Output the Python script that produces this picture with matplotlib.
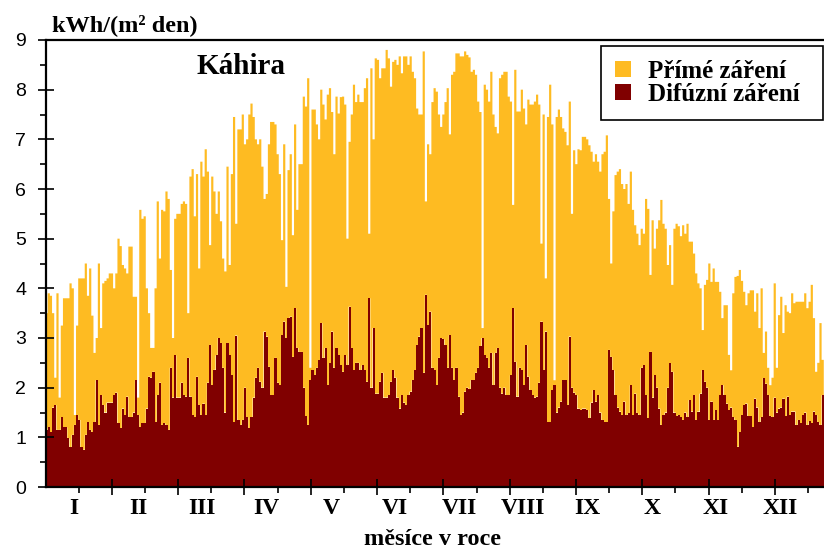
import numpy as np
import matplotlib.pyplot as plt
from matplotlib.patches import Patch

# Daily global radiation (top of the bar) and its diffuse part, kWh/(m2 day)
total_jan = [3.5, 3.9, 3.85, 3.5, 2.2, 3.9, 1.8, 3.25, 3.8, 3.8, 3.8, 4.1, 4.0, 1.45, 3.25, 4.2,
             4.2, 4.2, 4.5, 3.85, 4.4, 3.45, 2.7, 3.0, 4.5, 3.2, 4.1, 4.15, 4.2, 4.3, 4.3]
total_feb = [4.0, 4.3, 5.0, 4.85, 4.47, 4.4, 4.3, 4.84, 4.84, 3.83, 3.83, 1.8, 5.58, 5.4, 5.45,
             4.0, 3.5, 2.8, 2.8, 4.0, 5.75, 4.6, 5.58, 5.55, 5.95, 5.8, 4.37, 3.0]
total_mar = [5.4, 5.5, 5.5, 5.7, 5.75, 5.7, 3.5, 6.25, 6.4, 5.45, 6.3, 4.4, 6.55, 6.25, 6.8, 6.35,
             4.87, 6.25, 5.95, 5.5, 5.95, 5.35, 4.6, 4.34, 6.45, 4.47, 6.3, 7.45, 5.3, 7.2, 7.2]
total_apr = [7.5, 6.9, 7.0, 7.5, 7.72, 7.45, 7.0, 6.9, 7.0, 6.45, 5.8, 5.9, 6.9, 7.35, 7.35,
             7.3, 6.7, 6.3, 4.97, 6.9, 4.03, 6.38, 6.7, 5.07, 7.3, 5.58, 6.5, 6.5, 7.86, 7.66]
total_may = [8.23, 2.4, 7.6, 7.6, 7.3, 7.0, 8.0, 7.7, 7.4, 7.9, 8.03, 7.55, 6.7, 7.86, 7.52, 7.85,
             7.86, 7.7, 5.0, 6.95, 7.5, 8.1, 7.75, 7.9, 7.75, 7.75, 8.03, 8.23, 5.1, 8.43, 7.0]
total_jun = [8.63, 8.6, 8.23, 8.43, 8.43, 8.8, 8.63, 8.06, 8.56, 8.6, 8.5, 8.67, 8.33, 8.67, 8.67,
             8.5, 8.67, 8.36, 8.23, 7.62, 7.5, 7.5, 8.77, 5.75, 6.9, 6.7, 7.75, 8.03, 7.96, 7.5]
total_jul = [7.25, 7.5, 7.75, 8.03, 7.1, 8.3, 8.36, 8.73, 8.73, 8.67, 8.67, 8.77, 8.7, 8.65, 8.36,
             8.4, 8.3, 7.76, 7.55, 3.2, 8.1, 8.0, 7.76, 8.36, 7.5, 7.25, 7.12, 8.23, 8.3, 8.36, 8.36]
total_aug = [7.86, 7.76, 5.68, 8.4, 7.56, 7.56, 8.0, 7.62, 7.3, 7.8, 7.7, 7.7, 7.76, 7.9, 7.7, 4.9,
             7.5, 4.2, 7.45, 8.1, 7.3, 2.15, 7.45, 7.6, 7.45, 7.22, 7.15, 6.88, 7.76, 5.5, 6.78]
total_sep = [6.5, 6.8, 6.78, 7.05, 7.05, 7.0, 6.88, 6.75, 6.55, 6.7, 6.55, 6.35, 6.7, 6.75, 7.08,
             5.8, 4.5, 5.55, 6.28, 6.35, 6.4, 6.1, 6.0, 6.1, 5.7, 6.35, 5.58, 5.27, 5.1, 4.87]
total_oct = [5.2, 5.1, 5.8, 5.6, 4.27, 5.37, 4.8, 5.2, 5.37, 5.78, 5.3, 5.2, 4.47, 4.87, 4.07, 5.2,
             5.3, 5.25, 5.05, 5.27, 5.1, 5.3, 4.94, 4.94, 4.7, 4.3, 4.1, 4.0, 3.16, 4.07, 4.17]
total_nov = [4.5, 4.13, 4.4, 4.13, 4.13, 3.93, 3.4, 3.66, 3.66, 2.66, 2.35, 3.9, 4.23, 4.25, 4.37,
             4.15, 3.93, 3.66, 3.9, 3.96, 3.96, 3.53, 3.9, 3.2, 4.0, 2.7, 3.13, 2.4, 2.05, 2.2]
total_dec = [4.1, 2.4, 3.46, 3.83, 3.1, 3.66, 3.53, 3.5, 3.9, 3.7, 3.73, 3.73, 3.73, 3.73, 3.9,
             3.6, 3.73, 4.07, 3.4, 2.32, 2.5, 3.3, 2.56]

diffuse_jan = [1.15, 1.2, 1.1, 1.6, 1.65, 1.15, 1.15, 1.4, 1.2, 1.2, 0.98, 0.8, 1.05, 1.25, 1.45,
               1.35, 0.8, 0.75, 1.05, 1.3, 1.15, 1.1, 1.3, 2.15, 1.25, 1.85, 1.65, 1.5, 1.7, 1.7, 1.7]
diffuse_feb = [1.85, 1.9, 1.28, 1.18, 1.58, 1.45, 1.82, 1.4, 1.4, 1.5, 2.15, 1.45, 1.2, 1.28, 1.28,
               1.58, 2.22, 2.2, 2.32, 1.3, 1.85, 2.1, 1.25, 1.28, 1.25, 1.15, 2.4, 1.8]
diffuse_mar = [2.65, 1.8, 1.8, 2.1, 1.85, 1.82, 2.6, 1.82, 1.45, 1.4, 2.22, 1.65, 1.45, 1.68, 1.45,
               2.1, 2.86, 2.05, 2.36, 2.65, 3.0, 2.9, 2.4, 1.5, 2.9, 2.65, 2.25, 1.3, 3.05, 1.35, 1.25]
diffuse_apr = [1.35, 2.0, 1.4, 1.18, 1.4, 1.8, 2.2, 2.4, 2.12, 2.0, 3.13, 3.03, 2.42, 1.85, 1.85,
               2.6, 2.1, 2.05, 3.06, 3.33, 3.0, 3.4, 3.43, 2.62, 3.6, 2.8, 2.72, 2.72, 2.0, 1.42]
diffuse_may = [1.25, 2.15, 2.35, 2.25, 2.4, 2.55, 3.3, 2.6, 2.8, 2.05, 2.49, 3.13, 2.4, 2.8, 2.65,
               2.45, 2.32, 2.65, 2.45, 3.63, 2.8, 2.35, 2.5, 2.5, 2.35, 2.45, 2.35, 2.12, 3.8, 2.0, 3.2]
diffuse_jun = [1.88, 1.88, 2.12, 2.3, 1.8, 1.8, 1.85, 2.12, 2.35, 2.2, 1.8, 1.58, 1.85, 1.7, 1.65,
               1.85, 1.92, 2.15, 2.35, 2.86, 3.03, 3.2, 2.3, 3.87, 3.26, 3.53, 2.4, 2.35, 2.05, 2.6]
diffuse_jul = [3.0, 2.97, 2.86, 2.4, 3.06, 2.4, 2.15, 2.4, 1.82, 1.45, 1.5, 1.92, 2.0, 1.97, 2.15,
               2.15, 2.3, 2.4, 2.83, 3.0, 2.65, 2.6, 2.4, 2.7, 2.05, 2.7, 2.8, 2.0, 1.88, 2.0, 1.85]
diffuse_aug = [1.85, 2.25, 3.6, 2.52, 1.82, 2.4, 2.35, 2.05, 2.86, 2.22, 1.95, 1.85, 1.8, 1.82, 2.1,
               3.33, 2.35, 3.13, 1.3, 1.3, 1.95, 2.05, 1.5, 1.6, 1.72, 2.15, 2.15, 1.65, 3.03, 2.0, 1.9]
diffuse_sep = [1.85, 1.58, 1.55, 1.58, 1.58, 1.55, 1.38, 1.7, 1.95, 1.72, 1.85, 1.5, 1.35, 1.3, 1.3,
               2.76, 2.62, 2.35, 1.85, 1.6, 1.52, 1.45, 1.72, 1.45, 1.48, 2.05, 1.45, 1.88, 1.48, 1.45]
diffuse_oct = [2.4, 2.45, 1.85, 1.38, 2.72, 1.8, 2.25, 2.0, 1.58, 1.25, 1.45, 1.5, 2.0, 2.49, 2.32,
               1.5, 1.42, 1.45, 1.4, 1.35, 1.5, 1.4, 1.75, 1.52, 1.85, 1.35, 1.52, 1.88, 2.35, 2.12, 2.0]
diffuse_nov = [1.35, 1.72, 1.35, 1.55, 1.35, 1.85, 2.05, 1.85, 1.68, 1.55, 1.6, 1.4, 1.35, 0.81, 1.1,
               1.45, 1.65, 1.68, 1.42, 1.42, 1.2, 1.78, 1.6, 1.3, 1.4, 2.19, 2.08, 1.85, 1.42, 1.4]
diffuse_dec = [1.8, 1.5, 1.58, 1.6, 1.78, 1.42, 1.82, 1.45, 1.52, 1.52, 1.25, 1.35, 1.28, 1.45, 1.5,
               1.25, 1.32, 1.28, 1.52, 1.45, 1.3, 1.25, 1.85]

months = ['I', 'II', 'III', 'IV', 'V', 'VI', 'VII', 'VIII', 'IX', 'X', 'XI', 'XII']

total = np.concatenate([total_jan, total_feb, total_mar, total_apr, total_may, total_jun,
                        total_jul, total_aug, total_sep, total_oct, total_nov, total_dec])
diffuse = np.concatenate([diffuse_jan, diffuse_feb, diffuse_mar, diffuse_apr, diffuse_may,
                          diffuse_jun, diffuse_jul, diffuse_aug, diffuse_sep, diffuse_oct,
                          diffuse_nov, diffuse_dec])
edges = np.arange(len(total) + 1)

direct_color = '#FEBB22'
diffuse_color = '#800000'
serif = {'family': 'Liberation Serif', 'weight': 'bold'}

fig = plt.figure(figsize=(8.24, 5.52), dpi=100)
ax = fig.add_axes([45.5 / 824, 65 / 552, 1 - 45.5 / 824, 447 / 552])

# direct part stacked on top of the diffuse part
ax.stairs(total, edges, baseline=diffuse, fill=True, color=direct_color, lw=0)
ax.stairs(diffuse, edges, baseline=0, fill=True, color=diffuse_color, lw=0)

month_len = 365 / 12
ax.set_xlim(0, 357.1)
ax.set_ylim(0, 9)

ax.set_xticks(np.arange(1, 12) * month_len)
ax.set_xticks((np.arange(12) + 0.5) * month_len, minor=True)
ax.set_xticklabels([])
ax.tick_params(axis='x', which='major', direction='inout', length=12, width=1.2)
ax.tick_params(axis='x', which='minor', direction='out', length=4, width=1.2)

ax.set_yticks(np.arange(0, 10))
ax.set_yticks(np.arange(0.5, 9, 1), minor=True)
ax.tick_params(axis='y', which='major', direction='inout', length=12, width=1.2, pad=8,
               labelsize=14)
ax.tick_params(axis='y', which='minor', direction='out', length=4, width=1.2)
for lab in ax.get_yticklabels():
    lab.set_family('Liberation Sans')

for side in ['left', 'bottom', 'top']:
    ax.spines[side].set_linewidth(1.6)
ax.spines['right'].set_visible(False)

# month names under the axis
for x, m in zip(np.linspace(13.07, 337.0, 12), months):
    ax.text(x, -0.06, m, transform=ax.get_xaxis_transform(), ha='center', va='baseline',
            fontsize=17, fontdict=serif)

fig.text(0.5243, 0.0127, 'měsíce v roce', ha='center', va='baseline', fontsize=17.5, fontdict=serif)
fig.text(0.0631, 0.9438, 'kWh/(m² den)', ha='left', va='baseline', fontsize=17.5, fontdict=serif)
ax.text(0.1946, 0.924, 'Káhira', transform=ax.transAxes, ha='left', va='baseline',
        fontsize=21, fontdict=serif)

handles = [Patch(facecolor=direct_color, label='Přímé záření'),
           Patch(facecolor=diffuse_color, label='Difúzní záření')]
leg = ax.legend(handles=handles, loc='upper right', bbox_to_anchor=(0.7136, 0.7, 0.2851, 0.286),
                mode='expand', frameon=True, fancybox=False, edgecolor='black', framealpha=1,
                handlelength=0.64, handleheight=0.64, handletextpad=0.68,
                borderpad=0.55, labelspacing=0.0, borderaxespad=0,
                prop={'family': 'Liberation Serif', 'weight': 'bold', 'size': 18})
leg.get_frame().set_linewidth(1.2)

fig.savefig('out.png', dpi=100, facecolor='white')
